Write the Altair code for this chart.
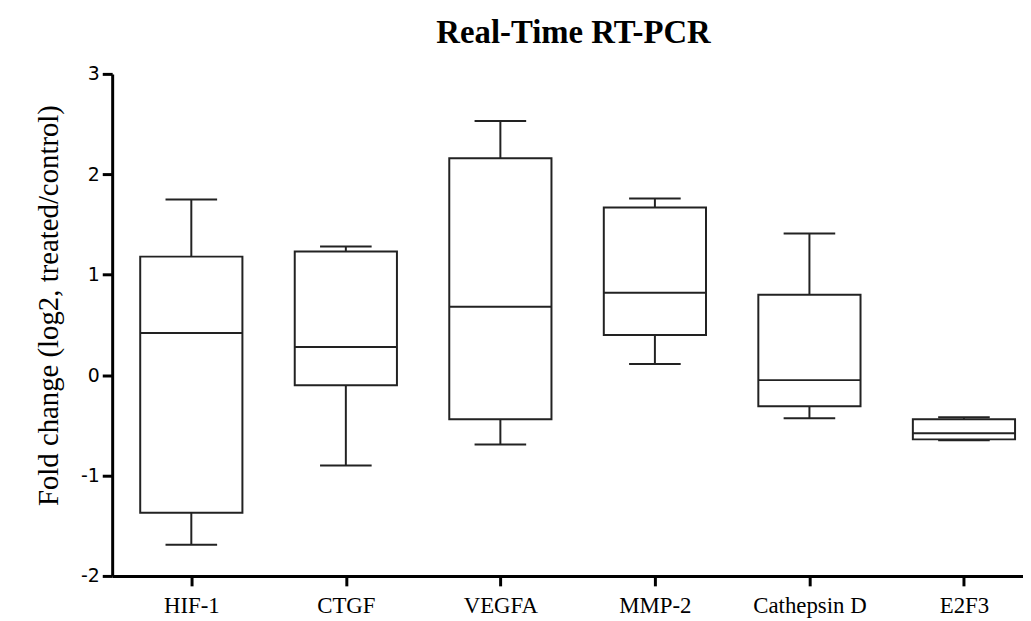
import altair as alt
import pandas as pd

genes = ["HIF-1", "CTGF", "VEGFA", "MMP-2", "Cathepsin D", "E2F3"]
mins = [-1.69, -0.90, -0.69, 0.11, -0.43, -0.65]
q1s = [-1.37, -0.10, -0.44, 0.40, -0.31, -0.64]
medians = [0.42, 0.28, 0.68, 0.82, -0.05, -0.58]
q3s = [1.18, 1.23, 2.16, 1.67, 0.80, -0.44]
maxs = [1.75, 1.28, 2.53, 1.76, 1.41, -0.42]

df = pd.DataFrame({"gene": genes, "idx": list(range(len(genes))), "min": mins,
                   "q1": q1s, "median": medians, "q3": q3s, "max": maxs})

label_arr = "[" + ",".join("'" + g + "'" for g in genes) + "]"

x = alt.X("idx:Q", title=None,
          scale=alt.Scale(domain=[-0.48, 5.35], nice=False, zero=False),
          axis=alt.Axis(values=list(range(len(genes))), labelExpr=label_arr + "[datum.value]",
                        labelAngle=0, labelFont="Liberation Serif", labelFontSize=23,
                        labelColor="black", labelPadding=9, tickSize=10, tickWidth=3,
                        tickColor="black", domainColor="black", domainWidth=3,
                        grid=False, labelFlush=False, labelOverlap=False))

yscale = alt.Scale(domain=[-2, 3], nice=False, zero=False)

base = alt.Chart(df)

whisk = base.mark_rule(color="#222", strokeWidth=2).encode(
    x=x,
    y=alt.Y("min:Q", scale=yscale,
            title="Fold change (log2, treated/control)",
            axis=alt.Axis(values=[-2, -1, 0, 1, 2, 3], labelExpr="'' + datum.value",
                          grid=False,
                          labelFont="DejaVu Sans", labelFontSize=19, labelColor="black",
                          labelPadding=3, tickSize=10, tickWidth=3, tickColor="black",
                          domainColor="black", domainWidth=3,
                          titleFont="Liberation Serif", titleFontSize=29,
                          titleFontWeight="normal", titleColor="black", titlePadding=17,
                          titleY=233)),
    y2="max:Q",
)

box = base.mark_bar(size=103, fill="white", stroke="#222", strokeWidth=2).encode(
    x=x, y=alt.Y("q1:Q", scale=yscale), y2="q3:Q")

med = base.mark_tick(size=103, thickness=2, color="#222", opacity=1,
                     orient="horizontal").encode(
    x=x, y=alt.Y("median:Q", scale=yscale))

capmin = base.mark_tick(size=52, thickness=2, color="#222", opacity=1,
                        orient="horizontal").encode(
    x=x, y=alt.Y("min:Q", scale=yscale))
capmax = base.mark_tick(size=52, thickness=2, color="#222", opacity=1,
                        orient="horizontal").encode(
    x=x, y=alt.Y("max:Q", scale=yscale))

chart = alt.layer(whisk, box, med, capmin, capmax).properties(
    width=918, height=506,
    background="white",
    title=alt.TitleParams("Real-Time RT-PCR", font="Liberation Serif", fontSize=33,
                          fontWeight="bold", color="black", anchor="middle",
                          offset=15, dx=6),
    autosize=alt.AutoSizeParams(type="none"),
    padding={"left": 105, "top": 64, "right": 0, "bottom": 40},
).configure_view(strokeWidth=0, stroke="transparent").configure_axis(grid=False)

chart.save("out.html", embed_options={"renderer": "svg", "actions": False})
